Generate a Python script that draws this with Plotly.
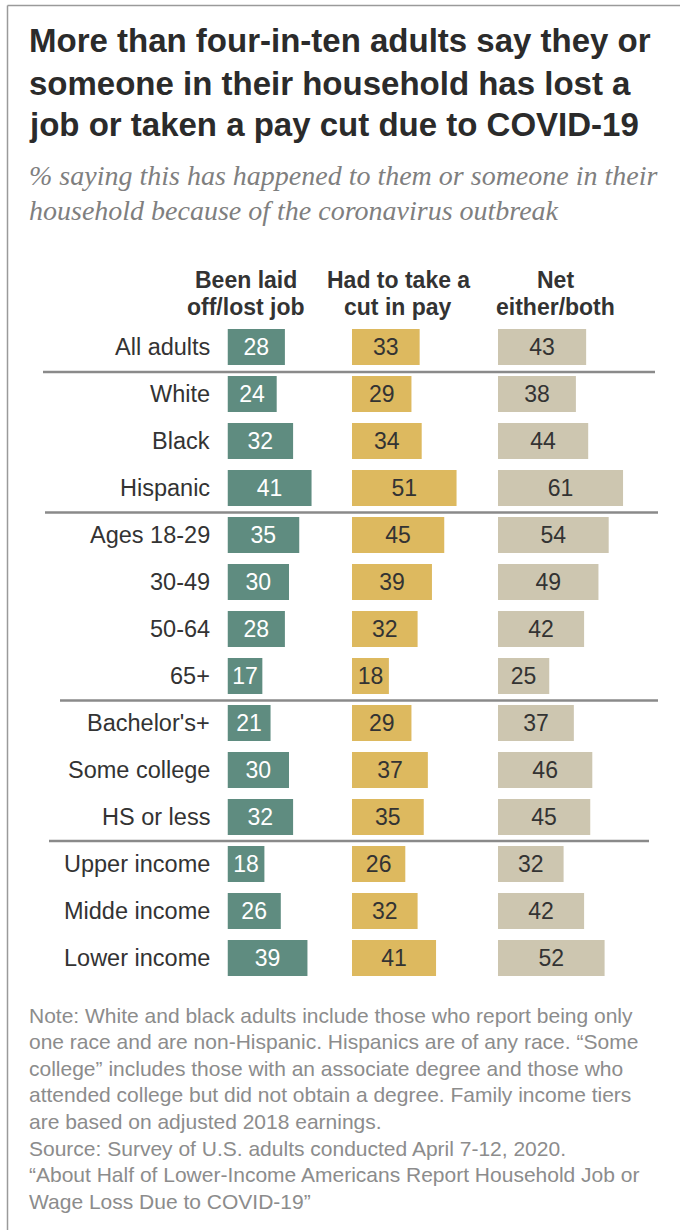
import plotly.graph_objects as go

# ---- data ----
groups = [
    "All adults", "White", "Black", "Hispanic",
    "Ages 18-29", "30-49", "50-64", "65+",
    "Bachelor's+", "Some college", "HS or less",
    "Upper income", "Midde income", "Lower income",
]
laid_off = [28, 24, 32, 41, 35, 30, 28, 17, 21, 30, 32, 18, 26, 39]
pay_cut = [33, 29, 34, 51, 45, 39, 32, 18, 29, 37, 35, 26, 32, 41]
net_either = [43, 38, 44, 61, 54, 49, 42, 25, 37, 46, 45, 32, 42, 52]

column_heads = [
    ["Been laid", "off/lost job"],
    ["Had to take a", "cut in pay"],
    ["Net", "either/both"],
]

title_lines = [
    "More than four-in-ten adults say they or",
    "someone in their household has lost a",
    "job or taken a pay cut due to COVID-19",
]
subtitle_lines = [
    "% saying this has happened to them or someone in their",
    "household because of the coronavirus outbreak",
]
note_lines = [
    "Note: White and black adults include those who report being only",
    "one race and are non-Hispanic. Hispanics are of any race. \u201cSome",
    "college\u201d includes those with an associate degree and those who",
    "attended college but did not obtain a degree. Family income tiers",
    "are based on adjusted 2018 earnings.",
    "Source: Survey of U.S. adults conducted April 7-12, 2020.",
    "\u201cAbout Half of Lower-Income Americans Report Household Job or",
    "Wage Loss Due to COVID-19\u201d",
]

# ---- layout helpers (pixel -> paper) ----
W, H = 680, 1230


def px(x):
    return x / W


def py(y):
    return 1 - y / H


SANS = "Liberation Sans, Arial, sans-serif"
SERIF = "Liberation Serif, Georgia, serif"
DARK = "#333333"

PX_PER_UNIT = 2.05
ROW_TOP, ROW_STEP = 347, 47
n = len(groups)

# each panel: left pixel edge, axis max, bar colour, label colour, values
panels = [
    (227.5, 50, "#5f8c80", "white", laid_off),
    (352.0, 70, "#ddb95f", DARK, pay_cut),
    (498.0, 85, "#cdc6b0", DARK, net_either),
]

fig = go.Figure()
layout_axes = {}
for i, (left, xmax, color, tcolor, vals) in enumerate(panels):
    suffix = "" if i == 0 else str(i + 1)
    fig.add_trace(go.Bar(
        y=groups, x=vals, orientation="h",
        xaxis="x" + suffix, yaxis="y",
        marker=dict(color=color, line=dict(width=0)),
        text=[str(v) for v in vals],
        textposition="inside", insidetextanchor="middle",
        textfont=dict(family=SANS, size=23, color=tcolor),
        hoverinfo="skip", showlegend=False,
    ))
    layout_axes["xaxis" + suffix] = dict(
        domain=[px(left), px(left + xmax * PX_PER_UNIT)],
        range=[0, xmax], anchor="y",
        showgrid=False, zeroline=False, showticklabels=False,
        showline=False, fixedrange=True,
    )

top_px = ROW_TOP - ROW_STEP / 2
bot_px = ROW_TOP + ROW_STEP * (n - 1) + ROW_STEP / 2

annotations = []

# title
for k, line in enumerate(title_lines):
    annotations.append(dict(
        text=line, xref="paper", yref="paper", x=px(27), y=py(41 + 42 * k),
        xanchor="left", yanchor="middle", showarrow=False,
        font=dict(family=SANS, size=33, color="#2b2b2b", weight="bold"),
    ))

# subtitle
for k, line in enumerate(subtitle_lines):
    annotations.append(dict(
        text="<i>" + line + "</i>", xref="paper", yref="paper",
        x=px(27), y=py(176 + 34 * k),
        xanchor="left", yanchor="middle", showarrow=False,
        font=dict(family=SERIF, size=28, color="#7f7f7f"),
    ))

# column headings
head_centers = [246, 398, 555]
for cx, lines in zip(head_centers, column_heads):
    for k, line in enumerate(lines):
        annotations.append(dict(
            text="<b>" + line + "</b>", xref="paper", yref="paper",
            x=px(cx), y=py(280 + 27 * k),
            xanchor="center", yanchor="middle", showarrow=False,
            font=dict(family=SANS, size=23, color=DARK),
        ))

# row labels
for g in groups:
    annotations.append(dict(
        text=g, xref="paper", yref="y", x=px(212), y=g,
        xanchor="right", yanchor="middle", showarrow=False,
        font=dict(family=SANS, size=23.5, color=DARK),
    ))

# notes
for k, line in enumerate(note_lines):
    annotations.append(dict(
        text=line, xref="paper", yref="paper", x=px(27), y=py(1015 + 26.6 * k),
        xanchor="left", yanchor="middle", showarrow=False,
        font=dict(family=SANS, size=21, color="#8c8c8c"),
    ))

shapes = []
# group separators
for y, x0, x1 in [(372, 43, 655), (512.5, 45, 658), (700.5, 60, 658), (841, 49, 649)]:
    shapes.append(dict(
        type="line", xref="paper", yref="paper",
        x0=px(x0), x1=px(x1), y0=py(y), y1=py(y),
        line=dict(color="#8a8a8a", width=2.5),
    ))
# frame (top and left edges)
shapes.append(dict(type="line", xref="paper", yref="paper",
                   x0=px(7.5), x1=1.0, y0=py(5.5), y1=py(5.5),
                   line=dict(color="#9a9a9a", width=1.5)))
shapes.append(dict(type="line", xref="paper", yref="paper",
                   x0=px(7.5), x1=px(7.5), y0=py(5.5), y1=0.0,
                   line=dict(color="#9a9a9a", width=1.5)))

fig.update_layout(
    width=W, height=H,
    margin=dict(l=0, r=0, t=0, b=0),
    paper_bgcolor="white", plot_bgcolor="white",
    bargap=0.234,
    yaxis=dict(
        domain=[py(bot_px), py(top_px)],
        type="category", categoryorder="array", categoryarray=groups,
        range=[n - 0.5, -0.5],
        showgrid=False, zeroline=False, showticklabels=False,
        showline=False, fixedrange=True,
    ),
    annotations=annotations,
    shapes=shapes,
    uniformtext=dict(mode=False),
    **layout_axes,
)

fig.write_html("out.html", config={"displayModeBar": False})
